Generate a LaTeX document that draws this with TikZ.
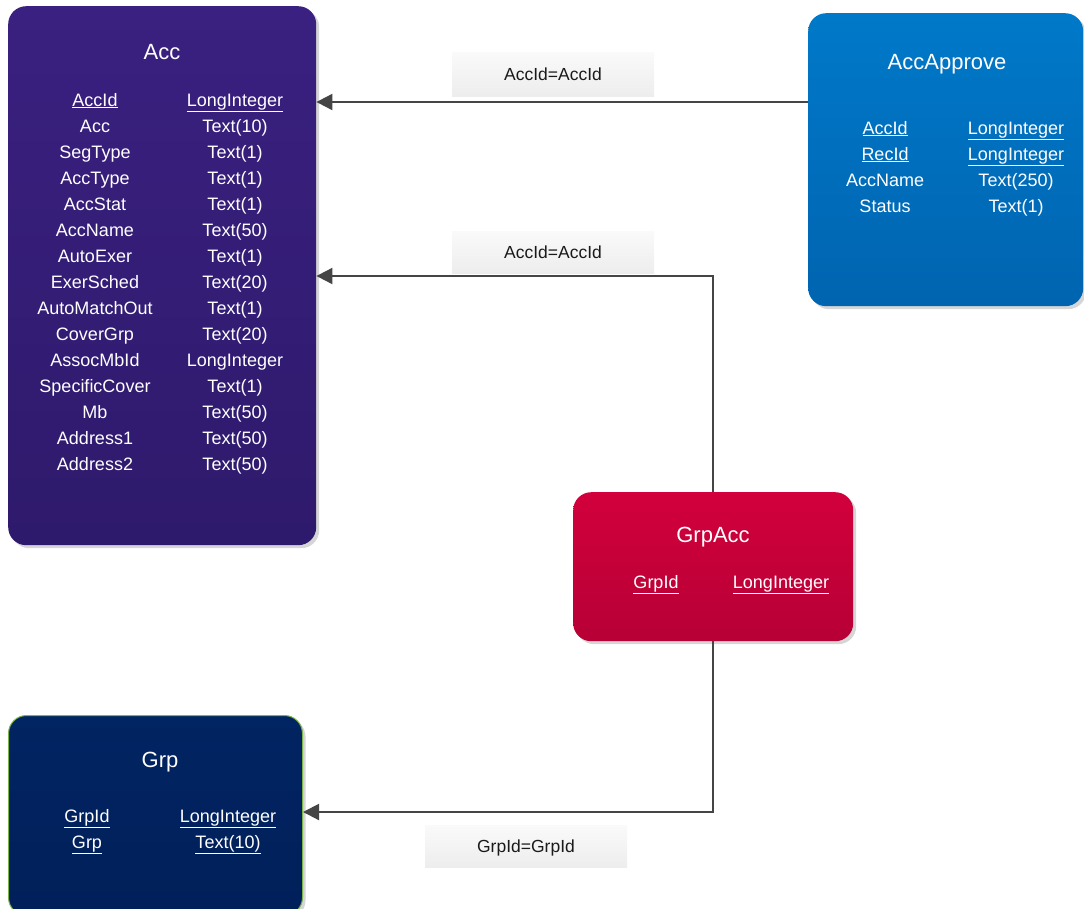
\documentclass[tikz,border=0pt]{standalone}
\usepackage{fontspec}
\setmainfont{Liberation Sans}
\usetikzlibrary{arrows.meta,shadows}
\definecolor{accTop}{HTML}{3A2080}
\definecolor{accBot}{HTML}{2E1A6C}
\definecolor{apTop}{HTML}{0079C9}
\definecolor{apBot}{HTML}{0064B0}
\definecolor{gaTop}{HTML}{D2003C}
\definecolor{gaBot}{HTML}{B70036}
\definecolor{grpTop}{HTML}{012462}
\definecolor{grpBot}{HTML}{01205A}
\definecolor{connCol}{HTML}{454545}
\definecolor{grpBorder}{HTML}{7DB34A}
\definecolor{lblText}{HTML}{1A1A1A}
\begin{document}
\begin{tikzpicture}[x=1pt,y=-1pt,
  tbl/.style={rounded corners=18pt, anchor=north west, inner sep=0pt, draw=none,
    drop shadow={shadow xshift=3pt,shadow yshift=-3pt,fill=black!16,opacity=1}},
  ttl/.style={text=white, font=\fontsize{22}{24}\selectfont, inner sep=0pt, anchor=base},
  fld/.style={text=white, font=\fontsize{18}{20}\selectfont, inner sep=0pt, anchor=base},
  lbl/.style={inner sep=0pt, top color=white!98!black, bottom color=white!93!black,
    draw=none, text=lblText, font=\fontsize{17.5}{19}\selectfont, text height=13pt, text depth=0pt},
  connector/.style={draw=connCol, line width=2pt, -{Triangle[length=16pt,width=16pt]}}
]
\useasboundingbox (0,0) rectangle (1084,908);

% ---------- boxes ----------
\node[tbl, top color=accTop, bottom color=accBot, minimum width=308pt, minimum height=539pt] (acc) at (8,6) {};
\node[tbl, top color=apTop, bottom color=apBot, minimum width=275pt, minimum height=293pt] (aa) at (808,13) {};
\node[tbl, top color=gaTop, bottom color=gaBot, minimum width=280pt, minimum height=149pt] (ga) at (573,492) {};
\node[tbl, top color=grpTop, bottom color=grpBot, draw=grpBorder, line width=1pt, minimum width=294pt, minimum height=200pt] (grp) at (8,715) {};

% ---------- Acc ----------
\node[ttl] (acct) at (162,59) {Acc};
\node[fld] (accn1) at (95,106) {\underline{AccId}};
\node[fld] (acct1) at (235,106) {\underline{LongInteger}};
\foreach \n/\t [count=\i from 2] in {Acc/Text(10),SegType/Text(1),AccType/Text(1),AccStat/Text(1),
  AccName/Text(50),AutoExer/Text(1),ExerSched/Text(20),AutoMatchOut/Text(1),CoverGrp/Text(20),
  AssocMbId/LongInteger,SpecificCover/Text(1),Mb/Text(50),Address1/Text(50),Address2/Text(50)}{
  \node[fld] (accn\i) at (95,{106+26*(\i-1)}) {\n};
  \node[fld] (acct\i) at (235,{106+26*(\i-1)}) {\t};
}

% ---------- AccApprove ----------
\node[ttl] (aat) at (947,69) {AccApprove};
\node[fld] (aan1) at (885,134) {\underline{AccId}};
\node[fld] (aat1) at (1016,134) {\underline{LongInteger}};
\node[fld] (aan2) at (885,160) {\underline{RecId}};
\node[fld] (aat2) at (1016,160) {\underline{LongInteger}};
\node[fld] (aan3) at (885,186) {AccName};
\node[fld] (aat3) at (1016,186) {Text(250)};
\node[fld] (aan4) at (885,212) {Status};
\node[fld] (aat4) at (1016,212) {Text(1)};

% ---------- GrpAcc ----------
\node[ttl] (gat) at (713,542) {GrpAcc};
\node[fld] (gan1) at (656,588) {\underline{GrpId}};
\node[fld] (gat1) at (781,588) {\underline{LongInteger}};

% ---------- Grp ----------
\node[ttl] (grpt) at (160,767) {Grp};
\node[fld] (grpn1) at (87,822) {\underline{GrpId}};
\node[fld] (grpt1) at (228,822) {\underline{LongInteger}};
\node[fld] (grpn2) at (87,848) {\underline{Grp}};
\node[fld] (grpt2) at (228,848) {\underline{Text(10)}};

% ---------- relation labels ----------
\node[lbl, minimum width=202pt, minimum height=44pt] (l1) at (553,74) {AccId=AccId};
\node[lbl, minimum width=202pt, minimum height=42pt] (l2) at (553,252) {AccId=AccId};
\node[lbl, minimum width=202pt, minimum height=42pt] (l3) at (526,846) {GrpId=GrpId};

% ---------- connectors ----------
\draw[connector] (aa.west |- 0,102) -- (acc.east |- 0,102);
\draw[connector] (ga.north) -- (ga.north |- 0,276) -- (acc.east |- 0,276);
\draw[connector] (ga.south) -- (ga.south |- 0,812) -- (grp.east |- 0,812);
\end{tikzpicture}
\end{document}
